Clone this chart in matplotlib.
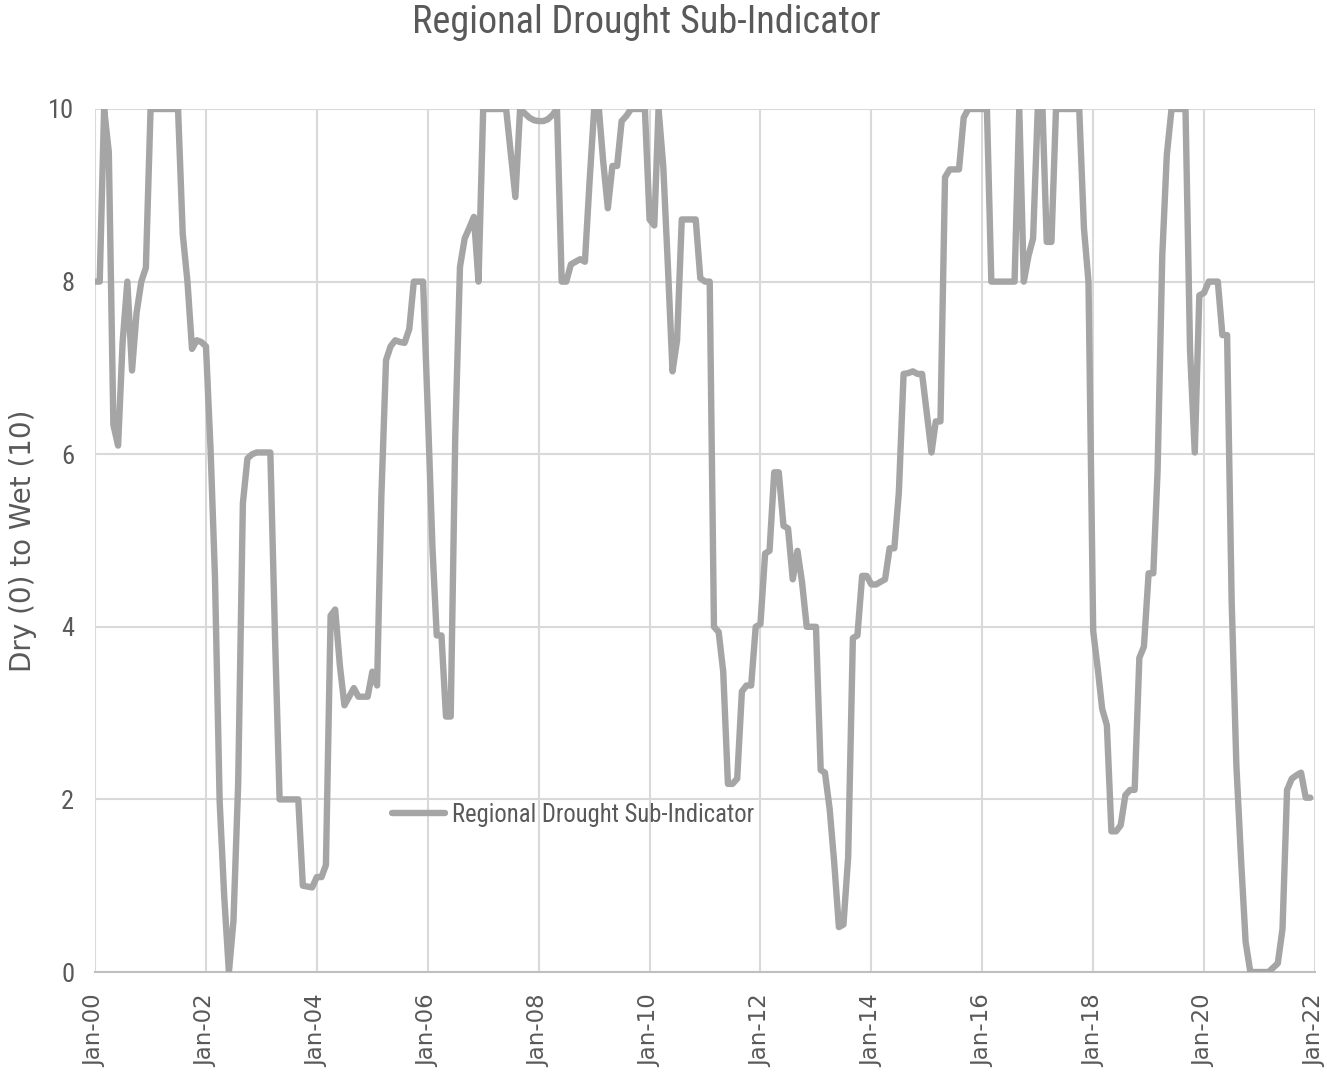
import math
import matplotlib
matplotlib.use("Agg")
import matplotlib.pyplot as plt
import matplotlib.dates as mdates
from matplotlib import font_manager
from matplotlib.font_manager import FontProperties
from matplotlib.textpath import TextPath
import pandas as pd

series_name = "Regional Drought Sub-Indicator"
title = "Regional Drought Sub-Indicator"
ylabel = "Dry (0) to Wet (10)"
start_month = "2000-01-01"

v2000 = [8.0, 8.0, 10.0, 9.5, 6.34, 6.1, 7.3, 8.0, 6.97, 7.64, 8.0, 8.16]
v2001 = [10.0, 10.0, 10.0, 10.0, 10.0, 10.0, 10.0, 8.55, 8.0, 7.22, 7.32, 7.3]
v2002 = [7.25, 6.02, 4.59, 1.98, 0.88, 0.0, 0.59, 2.18, 5.43, 5.95, 6.0, 6.02]
v2003 = [6.02, 6.02, 6.02, 3.87, 2.0, 2.0, 2.0, 2.0, 2.0, 1.0, 0.99, 0.98]
v2004 = [1.1, 1.1, 1.24, 4.13, 4.2, 3.55, 3.09, 3.19, 3.29, 3.19, 3.19, 3.19]
v2005 = [3.48, 3.32, 5.5, 7.09, 7.25, 7.32, 7.3, 7.29, 7.45, 8.0, 8.0, 8.0]
v2006 = [6.5, 4.91, 3.9, 3.9, 2.96, 2.96, 6.21, 8.17, 8.5, 8.62, 8.75, 8.0]
v2007 = [10.0, 10.0, 10.0, 10.0, 10.0, 10.0, 9.5, 8.98, 10.0, 9.95, 9.9, 9.87]
v2008 = [9.86, 9.86, 9.88, 9.93, 10.0, 8.0, 8.0, 8.2, 8.23, 8.26, 8.23, 9.14]
v2009 = [10.0, 10.0, 9.4, 8.85, 9.34, 9.34, 9.86, 9.92, 10.0, 10.0, 10.0, 10.0]
v2010 = [8.72, 8.65, 10.0, 9.34, 8.2, 6.96, 7.32, 8.72, 8.72, 8.72, 8.72, 8.04]
v2011 = [8.0, 8.0, 4.0, 3.94, 3.48, 2.18, 2.18, 2.24, 3.25, 3.32, 3.32, 4.0]
v2012 = [4.03, 4.85, 4.88, 5.79, 5.79, 5.17, 5.14, 4.55, 4.88, 4.52, 4.0, 4.0]
v2013 = [4.0, 2.34, 2.31, 1.89, 1.27, 0.52, 0.55, 1.33, 3.87, 3.9, 4.59, 4.59]
v2014 = [4.49, 4.49, 4.52, 4.55, 4.91, 4.91, 5.56, 6.93, 6.94, 6.96, 6.93, 6.93]
v2015 = [6.47, 6.02, 6.38, 6.38, 9.21, 9.3, 9.3, 9.3, 9.9, 10.0, 10.0, 10.0]
v2016 = [10.0, 10.0, 8.0, 8.0, 8.0, 8.0, 8.0, 8.0, 10.0, 8.0, 8.3, 8.5]
v2017 = [10.0, 10.0, 8.46, 8.46, 10.0, 10.0, 10.0, 10.0, 10.0, 10.0, 8.62, 8.0]
v2018 = [3.95, 3.5, 3.05, 2.86, 1.63, 1.63, 1.7, 2.05, 2.11, 2.11, 3.64, 3.77]
v2019 = [4.62, 4.62, 5.8, 8.3, 9.47, 10.0, 10.0, 10.0, 10.0, 7.2, 6.02, 7.84]
v2020 = [7.87, 8.0, 8.0, 8.0, 7.38, 7.38, 4.3, 2.4, 1.3, 0.35, 0.0, 0.0]
v2021 = [0.0, 0.0, 0.0, 0.05, 0.1, 0.5, 2.11, 2.24, 2.28, 2.31, 2.02, 2.02]

values = (v2000 + v2001 + v2002 + v2003 + v2004 + v2005 + v2006 + v2007 + v2008
          + v2009 + v2010 + v2011 + v2012 + v2013 + v2014 + v2015 + v2016 + v2017
          + v2018 + v2019 + v2020 + v2021)
dates = pd.date_range(start_month, periods=len(values), freq="MS")

yticks = [0, 2, 4, 6, 8, 10]


def _weight(f):
    w = f.weight
    if isinstance(w, str):
        w = font_manager.weight_dict.get(w, 400)
    return w


def pick_font():
    entries = [f for f in font_manager.fontManager.ttflist
               if f.style == "normal" and "mono" not in f.name.lower()
               and "serif" not in f.name.lower()]

    def is_cond(f):
        s = f.stretch
        fn = f.fname.lower()
        nm = f.name.lower()
        return ((isinstance(s, str) and "condensed" in s) or "condens" in fn
                or "condens" in nm or "narrow" in fn or "narrow" in nm)

    for p in ["roboto", "noto sans", "liberation", "dejavu sans", "open sans"]:
        good = [f for f in entries if p in f.name.lower() and is_cond(f)
                and 350 <= _weight(f) <= 450]
        if good:
            return good[0].fname
    for p in ["open sans", "roboto", "noto sans"]:
        good = [f for f in entries if p in f.name.lower() and is_cond(f)]
        if good:
            good.sort(key=lambda f: abs(_weight(f) - 400))
            return good[0].fname
    return None


cond_path = pick_font()


def cprop(size):
    if cond_path:
        return FontProperties(fname=cond_path, size=size)
    return FontProperties(family="Lato", size=size)


def fit_size(text, target_w, target_h, hchars):
    base = 20.0
    ext_w = TextPath((0, 0), text, prop=cprop(base)).get_extents()
    ext_h = TextPath((0, 0), hchars, prop=cprop(base)).get_extents()
    px = 100.0 / 72.0
    s_w = base * target_w / (ext_w.width * px)
    s_h = base * target_h / (ext_h.height * px)
    return math.sqrt(s_w * s_h)


W, H = 1327, 1082
fig = plt.figure(figsize=(W / 100, H / 100), dpi=100)
ax = fig.add_axes([95 / W, 1 - 972 / H, (1315 - 95) / W, (972 - 109) / H])

line_color = "#A5A5A5"
text_color = "#595959"
grid_color = "#D9D9D9"

ax.plot(dates, values, color=line_color, lw=4.6, solid_joinstyle="round",
        solid_capstyle="round", label=series_name, zorder=3)

ax.set_ylim(0, 10)
ax.set_yticks(yticks)
ax.set_xlim(pd.Timestamp("2000-01-01"), pd.Timestamp("2022-01-01"))
ax.xaxis.set_major_locator(mdates.YearLocator(2, month=1, day=1))
ax.xaxis.set_major_formatter(mdates.DateFormatter("%b-%y"))

ax.grid(True, color=grid_color, lw=1.5, zorder=0)
for s in ["top", "right", "left"]:
    ax.spines[s].set_visible(False)
ax.spines["bottom"].set_color("#BFBFBF")
ax.spines["bottom"].set_linewidth(1.5)

ax.tick_params(axis="both", length=0, colors=text_color)
ax.tick_params(axis="y", pad=15)
ax.tick_params(axis="x", pad=16)

title_size = fit_size(title, 467, 27, "R")
legend_size = fit_size(series_name, 300, 17.5, "R")
ytick_size = fit_size("10", 23, 19, "10")

for lab in ax.get_yticklabels():
    lab.set_fontproperties(cprop(ytick_size))
    lab.set_color(text_color)
for lab in ax.get_xticklabels():
    lab.set_rotation(90)
    lab.set_fontfamily("DejaVu Sans")
    lab.set_fontsize(16.5)
    lab.set_color(text_color)

ax.set_ylabel(ylabel, fontsize=20, color=text_color, family="DejaVu Sans")
ax.yaxis.set_label_coords((37 - 95) / 1220, 0.5)

fig.text(646.5 / W, 1 - 33 / H, title, ha="center", va="baseline",
         fontproperties=cprop(title_size), color=text_color)

fs_px = legend_size * 100 / 72
leg = ax.legend(loc="center left",
                bbox_to_anchor=((392 - 95) / 1220, (972 - 815) / 863),
                frameon=False, borderpad=0, borderaxespad=0,
                handlelength=53 / fs_px, handletextpad=7 / fs_px,
                prop=cprop(legend_size))
for t in leg.get_texts():
    t.set_color(text_color)

fig.savefig("out.png", dpi=100)
